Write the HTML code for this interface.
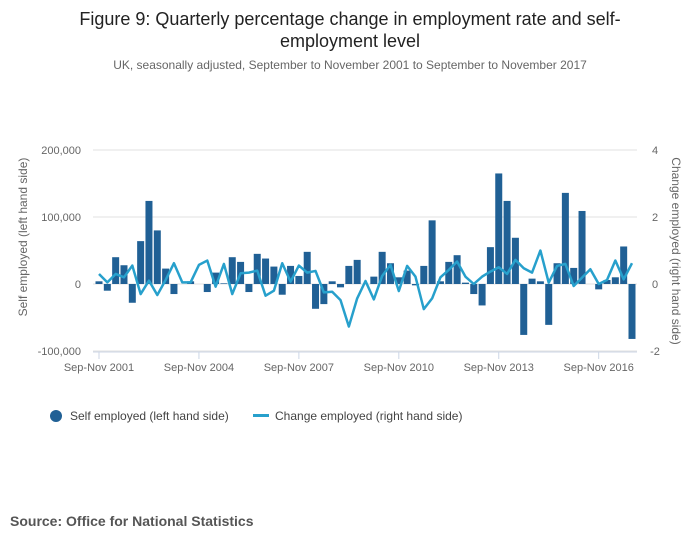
<!DOCTYPE html>
<html><head><meta charset="utf-8"><style>
body{margin:0;width:700px;height:549px;background:#fff;font-family:"Liberation Sans",sans-serif;overflow:hidden}
</style></head><body>
<svg width="700" height="549" style="font-family:'Liberation Sans',sans-serif">
<text x="350" y="25" text-anchor="middle" font-size="18" fill="#222">Figure 9: Quarterly percentage change in employment rate and self-</text>
<text x="350" y="47" text-anchor="middle" font-size="18" fill="#222">employment level</text>
<text x="350" y="69" text-anchor="middle" font-size="12" fill="#666">UK, seasonally adjusted, September to November 2001 to September to November 2017</text>
<g id="grid"></g><g id="bars"></g><g id="line"></g><g id="axes"></g>
<text transform="translate(27,237) rotate(-90)" text-anchor="middle" font-size="12" fill="#666">Self employed (left hand side)</text>
<text transform="translate(672,251) rotate(90)" text-anchor="middle" font-size="12" fill="#666">Change employed (right hand side)</text>
<g>
<circle cx="56" cy="416" r="6" fill="#206095"/>
<text x="70" y="420" font-size="12" fill="#444">Self employed (left hand side)</text>
<rect x="253" y="414" width="16" height="3" fill="#27a0cc"/>
<text x="275" y="420" font-size="12" fill="#444">Change employed (right hand side)</text>
</g>
<text x="10" y="526" font-size="14" font-weight="bold" fill="#555">Source: Office for National Statistics</text>
</svg>
<script>
const selfEmployed=[4000,-10000,40000,28000,-28000,64000,124000,80000,23000,-15000,0,4000,0,-12000,17000,1000,40000,33000,-12000,45000,38000,26000,-16000,27000,12000,48000,-37000,-30000,4000,-5000,27000,36000,0,11000,48000,31000,10000,20000,-2000,27000,95000,4000,33000,43000,2000,-15000,-32000,55000,165000,124000,69000,-76000,8000,4000,-61000,31000,136000,24000,109000,0,-8000,6000,10000,56000,-82000];
const changeEmployed=[0.3,0.05,0.3,0.2,0.55,-0.3,0.1,-0.33,0.12,0.62,0.05,0.05,0.57,0.7,-0.08,0.6,-0.3,0.32,0.34,0.4,-0.35,-0.2,0.62,0.07,0.55,0.34,0.39,-0.25,-0.23,-0.48,-1.27,-0.43,0.09,-0.46,0.24,0.57,-0.21,0.54,0.22,-0.75,-0.43,0.2,0.42,0.67,0.22,0,0.22,0.37,0.5,0.3,0.72,0.47,0.34,1.0,0.04,0.54,0.6,-0.06,0.19,0.44,0,0.12,0.7,0.14,0.62];
const leftTicks=[200000,100000,0,-100000];
const leftTickLabels=["200,000","100,000","0","-100,000"];
const rightTicks=[4,2,0,-2];
const xTickLabels=["Sep-Nov 2001","Sep-Nov 2004","Sep-Nov 2007","Sep-Nov 2010","Sep-Nov 2013","Sep-Nov 2016"];
const xTickIndex=[0,12,24,36,48,60];
const NS="http://www.w3.org/2000/svg";
const yL=v=>284-v*134/200000;
const yR=v=>284-v*134/4;
const xI=i=>99+i*(533/64);
function mk(t,a,p){const e=document.createElementNS(NS,t);for(const k in a)e.setAttribute(k,a[k]);p.appendChild(e);return e;}
const grid=document.getElementById('grid'),bars=document.getElementById('bars'),line=document.getElementById('line'),axes=document.getElementById('axes');
leftTicks.forEach((v,i)=>{
 const g=mk('line',{x1:93,x2:637,y1:yL(v),y2:yL(v),stroke:'#e2e2e2','stroke-width':1},grid);
 
 const t=mk('text',{x:81,y:yL(v)+4,'text-anchor':'end','font-size':11,fill:'#666'},axes);t.textContent=leftTickLabels[i];
 
});
rightTicks.forEach(v=>{
 const t=mk('text',{x:655,y:yR(v)+4,'text-anchor':'middle','font-size':11,fill:'#666'},axes);t.textContent=v;
 
});
selfEmployed.forEach((v,i)=>{
 const y0=yL(0),y1=yL(v);
 const r=mk('rect',{x:xI(i)-3.5,y:Math.min(y0,y1),width:7,height:Math.abs(y1-y0),fill:'#206095'},bars);
 
});
const p=mk('polyline',{points:changeEmployed.map((v,i)=>xI(i)+','+yR(v)).join(' '),fill:'none',stroke:'#27a0cc','stroke-width':2.5,'stroke-linejoin':'round'},line);

const ax=mk('line',{x1:93,x2:637,y1:352,y2:352,stroke:'#ccd6e6','stroke-width':1},axes);

xTickIndex.forEach((ix,i)=>{
 const tk=mk('line',{x1:xI(ix),x2:xI(ix),y1:352,y2:359,stroke:'#ccd6e6'},axes);
 
 const t=mk('text',{x:xI(ix),y:371,'text-anchor':'middle','font-size':11,fill:'#666'},axes);t.textContent=xTickLabels[i];
 
});
</script>
</body></html>
